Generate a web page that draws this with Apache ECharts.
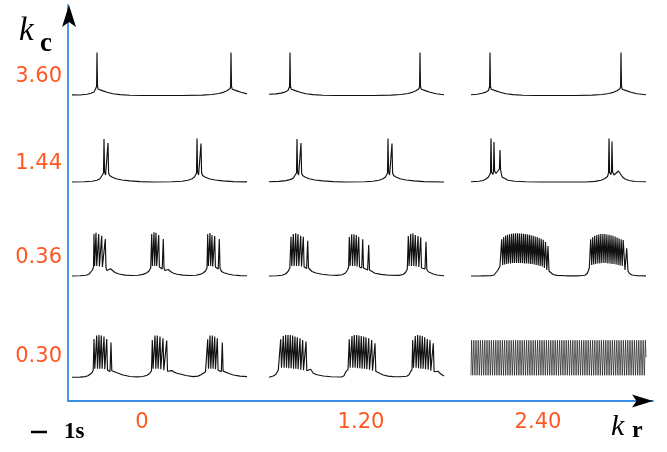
<!DOCTYPE html>
<html><head><meta charset="utf-8">
<script src="https://cdn.jsdelivr.net/npm/echarts@6/dist/echarts.min.js"></script>
<style>html,body{margin:0;padding:0;background:#fff}#c{width:667px;height:452px}</style>
</head><body><div id="c"></div>
<script>
// ---- data (time in panel units, value = height above resting level) ----
const kcLabels = ['3.60', '1.44', '0.36', '0.30'];
const krLabels = ['0', '1.20', '2.40'];

const tr_360_000 = [[0,0.6],[8,0.5],[15,1.2],[19,2.2],[22,3.6],[24,5.5],[24.6,9],[25,43],[25.5,9],[26.3,6.2],[28,5.6],[31,4.6],[35,3.3],[41,1.8],[48,0.9],[58,0.3],[70,0],[110,0],[130,0.4],[140,1],[147,2],[152,3.4],[155,4.8],[158.2,7],[158.6,10],[159,43],[159.5,9],[160.3,6.2],[162,5.6],[165,4.6],[169,3.2],[175,1.6]];
const tr_360_120 = [[0,1.2],[7,1.6],[12,2.4],[16,3.4],[19,5],[20.6,9],[21,43],[21.5,9],[22.3,6.2],[24,5.6],[27,4.6],[31,3.3],[37,1.8],[44,0.9],[54,0.3],[66,0],[105,0],[122,0.4],[132,1],[139,2],[144,3.4],[147,4.8],[150.2,7],[150.6,10],[151,43],[151.5,9],[152.3,6.2],[154,5.6],[157,4.6],[161,3.3],[167,1.8],[175,0.8]];
const tr_360_240 = [[0,0.8],[6,1.3],[11,2.2],[15,3.4],[17.5,5],[18.6,9],[19,43],[19.5,9],[20.3,6.2],[22,5.6],[25,4.6],[29,3.3],[35,1.8],[42,0.9],[52,0.3],[64,0],[105,0],[121,0.4],[131,1],[138,2],[143,3.4],[146,4.8],[149.2,7],[149.6,10],[150,43],[150.5,9],[151.3,6.2],[153,5.6],[156,4.6],[160,3.3],[166,1.8],[175,0.8]];

const tr_144_000 = [[0,0],[12,0.2],[20,0.8],[25,1.8],[28,3.2],[30,5],[31.5,9],[32,43],[32.6,10],[33.6,7],[35.4,9],[36,39],[36.6,9],[37.6,6.5],[40,5],[44,3.3],[50,2],[58,1.1],[68,0.4],[80,0],[100,0.2],[110,0.8],[116,1.8],[120,3.2],[122.5,5],[124.5,9],[125,43.5],[125.6,10],[126.6,7],[128.4,9],[129,38.5],[129.6,9],[130.6,6.5],[133,5],[137,3.3],[143,2],[151,1.1],[161,0.4],[175,0.1]];
const tr_144_120 = [[0,0.2],[10,0.6],[17,1.4],[21,2.4],[24,3.6],[26,5],[27.5,9],[28,43],[28.6,10],[29.6,7],[31.4,9],[32,39],[32.6,9],[33.6,6.5],[36,5],[40,3.3],[46,2],[54,1.1],[64,0.4],[76,0],[96,0.2],[104,0.8],[110,1.8],[114,3.2],[116.5,5],[118.5,9],[119,43.5],[119.6,10],[120.6,7],[122.4,9],[123,38.5],[123.6,9],[124.6,6.5],[127,5],[131,3.3],[137,2],[145,1.1],[155,0.4],[175,0]];
const tr_144_240 = [[0,0.3],[8,0.8],[12,1.5],[15,3],[17.5,5],[19.5,9],[20,43.5],[20.6,10],[21.8,7.5],[22.5,10],[23,40],[23.6,11],[25,8.5],[27,9],[28.4,13],[29,32],[29.6,12],[31,5],[33,3],[37,1.8],[44,0.8],[55,0.2],[70,0],[115,0],[124,0.6],[130,1.8],[134,3.5],[136.5,5.5],[137.5,9],[138,43.5],[138.6,10],[139.8,7.5],[140.5,10],[141,40.5],[141.6,10],[143,7],[145,8.5],[147.5,11],[149.5,9],[151.5,5],[154,3],[158,1.5],[164,0.5],[175,0.2]];

const tr_036_000 = [[0,0],[8,0.2],[14,0.8],[17,1.8],[19,3.5],[20.5,6],[21.5,9],[22,42],[22.6,10],[23.3,8.5],[24,43.3],[24.7,10],[25.8,8.5],[26.7,42],[27.4,9.5],[28.7,8],[29.7,40.3],[30.4,9],[32.2,7],[33.3,37],[34,8],[35,5.5],[36.5,6],[38.5,7.3],[40.5,5.5],[43,3.5],[47,2],[53,0.9],[60,0.5],[66,0.8],[71,1.6],[74.5,3],[77,5],[78.7,8],[79.7,42],[80.4,10],[81.2,8.5],[82,43.7],[82.7,10],[83.4,8.5],[84,43.3],[84.7,10],[85.8,8.5],[86.7,41],[87.4,9],[90.2,7],[91.3,37],[92,8],[93,5.5],[94.5,5.5],[96.3,6.5],[98.5,4.5],[101,3],[105,1.8],[111,0.9],[118,0.5],[124,0.8],[128,1.6],[131,3],[133.5,5],[135,8],[135.7,42],[136.4,10],[137.2,8.5],[138,43],[138.7,10],[139.4,8.5],[140,41],[140.7,9.5],[141.8,8.5],[142.7,40],[143.4,9],[146.2,7],[147.3,37],[148,8],[149.5,4.5],[152,3.3],[156,2],[161,1],[168,0.4],[175,0.2]];
const tr_036_120 = [[0,0],[8,0.2],[13,0.8],[16.5,2],[19,4.5],[20.8,8],[22,39.3],[22.8,10],[23.6,9],[24.3,42],[25.1,10],[25.9,9],[26.7,42.7],[27.5,10],[28.2,9],[29,42],[29.8,10],[30.8,9],[31.7,40.3],[32.5,9.5],[33.4,9],[34.3,39.3],[35.1,9],[37.6,7.5],[38.7,35.3],[39.5,8],[40.5,6],[43,4.5],[47,3],[53,1.8],[60,1],[68,0.6],[73,1.2],[76.5,3],[78.5,6],[79.6,9],[80.3,39.3],[81.1,10],[81.9,9],[82.7,41.7],[83.5,10],[84.2,9],[85,41.7],[85.8,10],[86.5,9],[87.3,41],[88.1,9.5],[88.9,9],[89.7,39.3],[90.5,9],[92.7,8],[93.7,36.7],[94.5,8],[98.6,6],[99.7,31],[100.5,6],[102,4.3],[106,2.8],[112,1.6],[120,0.8],[130,0.6],[134,1.5],[136.5,3.5],[138.3,7],[139.3,40],[140.1,10],[140.9,9],[141.7,42],[142.5,10],[143.2,9],[144,42.7],[144.8,10],[145.5,9],[146.3,41],[147.1,9.5],[148.2,9],[149,40],[149.8,9],[150.9,8.5],[151.7,38.7],[152.5,8],[156,7],[157,34.3],[157.8,6.5],[159.3,4.3],[162,3],[164.3,2],[168,1],[175,0.2]];
const tr_036_240 = [[0,0],[10,0.1],[20,0.3],[23,1],[25,3],[27,6],[29,10],[30.7,36.7],[31.7,11],[32.7,39],[33.7,11.5],[34.7,40.5],[35.7,12],[36.6,41.3],[37.6,12.5],[38.6,41.8],[39.6,12.5],[40.6,42.2],[41.6,13],[42.5,42.5],[43.5,13],[44.5,42.7],[45.5,13],[46.5,42.7],[47.5,13],[48.4,42.6],[49.4,13],[50.4,42.4],[51.4,13],[52.4,42.2],[53.4,12.5],[54.3,42],[55.3,12.5],[56.3,41.7],[57.3,12.5],[58.3,41.2],[59.3,12],[60.2,40.8],[61.2,12],[62.2,40.3],[63.2,11.5],[64.2,39.6],[65.2,11],[66.2,38.9],[67.2,10.5],[68.2,38.1],[69.2,10],[70.2,37.3],[71.2,9.5],[72.2,36.3],[73.4,8],[74.5,34],[75.8,6],[77,30],[78,5],[79.5,3],[82,1.5],[86,0.6],[95,0.2],[108,0.2],[114,0.8],[116.5,3],[118.3,8],[119.7,36.7],[120.7,11],[121.7,38.8],[122.7,11.5],[123.7,40.2],[124.7,12],[125.8,41],[126.8,12.5],[127.8,41.6],[128.8,12.5],[129.8,41.9],[130.8,13],[131.9,42],[132.9,13],[133.9,41.9],[134.9,13],[135.9,41.6],[136.9,12.5],[138,41.2],[139,12.5],[140,40.7],[141,12],[142,40.3],[143,12],[144.1,39.5],[145.1,11.5],[146.1,38.6],[147.1,11],[148.1,37.5],[149.1,10.5],[150.2,36.8],[151.2,10],[152.2,36],[154,6],[155.7,27.7],[157,5],[158.5,2.5],[161,1],[166,0.3],[175,0.1]];

const tr_030_000 = [[0,0],[8,0.2],[13,0.7],[16,1.5],[18,2.5],[20,4.5],[21.2,7],[22,38.3],[22.8,8.5],[23.9,8],[24.7,41.7],[25.5,8.5],[26.2,8],[27,42.3],[27.8,8.5],[28.5,8],[29.3,41.7],[30.1,8.5],[31.2,8],[32,40.7],[32.8,8],[33.9,7.5],[34.7,38.3],[35.5,7],[38,5.7],[39,34.7],[39.8,6.5],[41.3,5.7],[45,4.5],[51,2.3],[58,0.8],[65,0.4],[71,0.8],[75,2],[77.5,3.8],[79.5,6.5],[80.3,37.3],[81.1,8.5],[82.2,8],[83,41.7],[83.8,8.5],[84.5,8],[85.3,41.7],[86.1,8.5],[87.2,8],[88,40.7],[88.8,8],[90.2,7.5],[91,39],[91.8,7],[93.8,6.5],[94.7,36.7],[95.5,6],[97,5],[99.7,6.7],[102,5.2],[105,4],[108,3.3],[114,1.8],[121,0.7],[126,1.2],[129,2.5],[131,4],[133.5,5.5],[135,7],[135.7,38],[136.5,8.5],[137.2,8],[138,41.7],[138.8,8.5],[139.5,8],[140.3,41.7],[141.1,8.5],[141.9,8],[142.7,40.7],[143.5,8],[144.5,7.5],[145.3,39],[146.1,7],[149.3,5.7],[150.3,34.7],[151.1,6.2],[153,5.2],[157,3.8],[161.3,2.3],[168,1.2],[175,0.7]];
const tr_030_120 = [[0,0],[4.3,1.3],[7,3],[9.3,7.3],[10.9,9],[11.7,38],[12.5,9.5],[13.5,9],[14.3,41.3],[15.1,9.5],[15.9,9],[16.7,42.3],[17.5,9.5],[18.2,9],[19,42.3],[19.8,9],[20.5,8.5],[21.3,42.3],[22.1,9],[22.9,8.5],[23.7,41.7],[24.5,8.5],[25.2,8],[26,40.7],[26.8,8.5],[27.5,8],[28.3,40],[29.1,8],[30.2,7.5],[31,39],[31.8,7.5],[32.9,7],[33.7,37.3],[34.5,7],[36,5.7],[37,35.7],[37.8,6.5],[39.5,6.5],[41.7,8],[43,6],[44.3,4],[48,2.5],[54.3,1.3],[62,0.5],[72.7,0.3],[75,1.5],[77,5.7],[79,8],[80.3,38],[81.1,9.5],[82.2,9],[83,41.3],[83.8,9.5],[84.5,9],[85.3,42.3],[86.1,9.5],[86.9,9],[87.7,42.3],[88.5,9],[89.2,8.5],[90,41.7],[90.8,9],[91.5,8.5],[92.3,41.3],[93.1,8.5],[93.9,8],[94.7,40.7],[95.5,8.5],[96.2,8],[97,40],[97.8,8],[98.9,7.5],[99.7,39],[100.5,7.5],[101.9,7],[102.7,37.3],[103.5,6.5],[105,5.7],[106,34],[106.8,6],[107.7,5.7],[111,3.8],[114.3,2.3],[119,1.2],[124.3,0.7],[132,0.6],[137.7,1],[140,2.5],[141.7,5.7],[143,8],[143.7,37.3],[144.5,9.5],[145.5,9],[146.3,41.3],[147.1,9.5],[147.9,9],[148.7,42.3],[149.5,9],[150.2,8.5],[151,41.7],[151.8,8.5],[152.5,8],[153.3,41.3],[154.1,8.5],[154.9,8],[155.7,40],[156.5,8],[157.5,7.5],[158.3,38.3],[159.1,7.5],[160.2,7],[161,37.3],[161.8,6.5],[163.3,5.7],[164.3,34],[165.1,5.5],[166.5,4.7],[169.3,6],[171.5,3.5],[175,1.3]];
const tr_030_240 = [[0,2],[0.6,37],[1.7,2],[2.8,37],[3.9,2],[5.0,37],[6.1,2],[7.2,37],[8.3,2],[9.4,37],[10.5,2],[11.6,37],[12.7,2],[13.8,37],[14.9,2],[16.0,37],[17.1,2],[18.2,37],[19.3,2],[20.4,37],[21.5,2],[22.6,37],[23.7,2],[24.8,37],[25.9,2],[27.0,37],[28.1,2],[29.2,37],[30.3,2],[31.4,37],[32.5,2],[33.6,37],[34.7,2],[35.8,37],[36.9,2],[38.0,37],[39.1,2],[40.2,37],[41.3,2],[42.4,37],[43.5,2],[44.6,37],[45.7,2],[46.8,37],[47.9,2],[49.0,37],[50.1,2],[51.2,37],[52.3,2],[53.4,37],[54.5,2],[55.6,37],[56.7,2],[57.8,37],[58.9,2],[60.0,37],[61.1,2],[62.2,37],[63.3,2],[64.4,37],[65.5,2],[66.6,37],[67.7,2],[68.8,37],[69.9,2],[71.0,37],[72.1,2],[73.2,37],[74.3,2],[75.4,37],[76.5,2],[77.6,37],[78.7,2],[79.8,37],[80.9,2],[82.0,37],[83.1,2],[84.2,37],[85.3,2],[86.4,37],[87.5,2],[88.6,37],[89.7,2],[90.8,37],[91.9,2],[93.0,37],[94.1,2],[95.2,37],[96.3,2],[97.4,37],[98.5,2],[99.6,37],[100.7,2],[101.8,37],[102.9,2],[104.0,37],[105.1,2],[106.2,37],[107.3,2],[108.4,37],[109.5,2],[110.6,37],[111.7,2],[112.8,37],[113.9,2],[115.0,37],[116.1,2],[117.2,37],[118.3,2],[119.4,37],[120.5,2],[121.6,37],[122.7,2],[123.8,37],[124.9,2],[126.0,37],[127.1,2],[128.2,37],[129.3,2],[130.4,37],[131.5,2],[132.6,37],[133.7,2],[134.8,37],[135.9,2],[137.0,37],[138.1,2],[139.2,37],[140.3,2],[141.4,37],[142.5,2],[143.6,37],[144.7,2],[145.8,37],[146.9,2],[148.0,37],[149.1,2],[150.2,37],[151.3,2],[152.4,37],[153.5,2],[154.6,37],[155.7,2],[156.8,37],[157.9,2],[159.0,37],[160.1,2],[161.2,37],[162.3,2],[163.4,37],[164.5,2],[165.6,37],[166.7,2],[167.8,37],[168.9,2],[170.0,37],[171.1,2],[172.2,37],[173.3,2],[174.4,37],[175,20]];

const traceRows = [
  [tr_360_000, tr_360_120, tr_360_240],
  [tr_144_000, tr_144_120, tr_144_240],
  [tr_036_000, tr_036_120, tr_036_240],
  [tr_030_000, tr_030_120, tr_030_240]
];

// ---- layout (pixels) ----
const rowBaseY = [95.5, 182, 276, 377.3];
const colLeftX = [72, 269, 471];
const panelW = 175;
const kcLabelPos = [324.5, 237, 143, 44];   // in main y-axis units (px above x axis)
const krLabelPos = [74, 293, 470];          // in main x-axis units (px right of y axis)

const axisBlue = '#3a8ee6';
const labelOrange = '#ff5722';
const labelFont = 'DejaVu Sans';

const grids = [{left: 68, top: 5, width: 585, height: 396}];
const xAxes = [{
  gridIndex: 0, type: 'value', min: 0, max: 585,
  axisLine: {show: true, lineStyle: {color: axisBlue, width: 1.8}},
  axisTick: {show: false}, splitLine: {show: false},
  axisLabel: {
    customValues: krLabelPos, margin: 11,
    color: labelOrange, fontSize: 21, fontFamily: labelFont,
    formatter: v => krLabels[krLabelPos.indexOf(v)]
  }
}];
const yAxes = [{
  gridIndex: 0, type: 'value', min: 0, max: 396,
  axisLine: {show: true, lineStyle: {color: axisBlue, width: 1.8}},
  axisTick: {show: false}, splitLine: {show: false},
  axisLabel: {
    customValues: kcLabelPos, margin: 6,
    color: labelOrange, fontSize: 21, fontFamily: labelFont,
    formatter: v => kcLabels[kcLabelPos.indexOf(v)]
  }
}];
const series = [];
traceRows.forEach((row, r) => row.forEach((data, c) => {
  const i = grids.length;
  const dense = (r === 3 && c === 2);
  grids.push({left: colLeftX[c], top: rowBaseY[r] - 47, width: panelW, height: 50});
  xAxes.push({gridIndex: i, type: 'value', min: 0, max: 175, show: false});
  yAxes.push({gridIndex: i, type: 'value', min: -3, max: 47, show: false});
  series.push({
    type: 'line', xAxisIndex: i, yAxisIndex: i, data: data,
    symbol: 'none', showSymbol: false, silent: true,
    lineStyle: {color: dense ? '#1a1a1a' : '#111', width: dense ? 0.7 : 1.15}
  });
}));

const chart = echarts.init(document.getElementById('c'), null, {renderer: 'canvas'});
chart.setOption({
  animation: false,
  backgroundColor: '#fff',
  grid: grids, xAxis: xAxes, yAxis: yAxes, series: series,
  graphic: [
    {type: 'polygon', shape: {points: [[69, 5], [76, 27], [69, 22], [62, 27]]}, style: {fill: '#000'}, z: 100},
    {type: 'polygon', shape: {points: [[653, 401], [632, 407.5], [636.5, 401], [632, 394.5]]}, style: {fill: '#000'}, z: 100},
    {type: 'text', x: 19, y: 31, style: {text: 'k', font: 'italic 33px "Liberation Serif"', fill: '#000', verticalAlign: 'middle'}},
    {type: 'text', x: 40, y: 44, style: {text: 'c', font: 'bold 27px "Liberation Serif"', fill: '#000', verticalAlign: 'middle'}},
    {type: 'text', x: 611, y: 427, style: {text: 'k', font: 'italic 30px "Liberation Serif"', fill: '#000', verticalAlign: 'middle'}},
    {type: 'text', x: 632, y: 431, style: {text: 'r', font: 'bold 24px "Liberation Serif"', fill: '#000', verticalAlign: 'middle'}},
    {type: 'line', shape: {x1: 31, y1: 432, x2: 47, y2: 432}, style: {stroke: '#000', lineWidth: 2.5}},
    {type: 'text', x: 64, y: 432, style: {text: '1s', font: 'bold 23px "Liberation Serif"', fill: '#000', verticalAlign: 'middle'}}
  ]
});
</script>
</body></html>
